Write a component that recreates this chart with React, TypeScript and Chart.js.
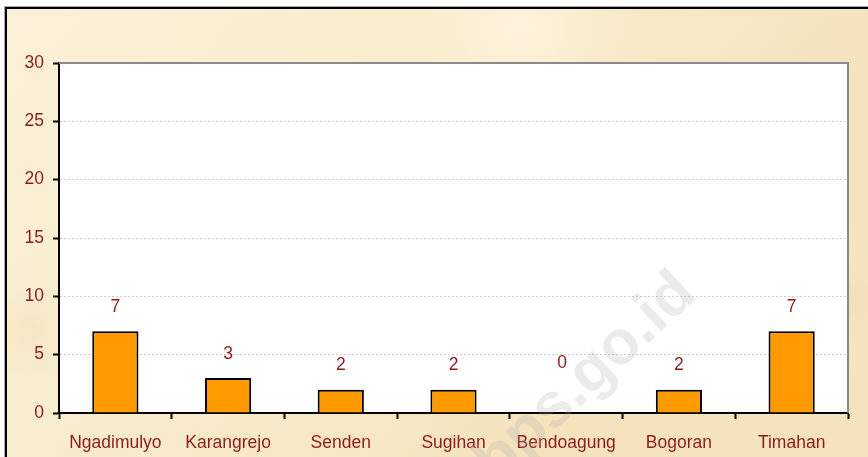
import React, { useEffect, useRef } from 'react';
import { Chart, registerables } from 'chart.js';

Chart.register(...registerables);

const categories = ['Ngadimulyo', 'Karangrejo', 'Senden', 'Sugihan', 'Bendoagung', 'Bogoran', 'Timahan'];
const values = [7, 3, 2, 2, 0, 2, 7];
const yMin = 0;
const yMax = 30;
const yStep = 5;
const watermarkText = 'bps.go.id';

const TEXT_RED = '#8E1B1B';
const FONT = "'Liberation Sans', Arial, sans-serif";

const backgroundPlugin = {
  id: 'parchment',
  beforeDraw(chart: any) {
    const { ctx, width, height, chartArea } = chart;
    ctx.save();
    ctx.fillStyle = '#ffffff';
    ctx.fillRect(0, 0, width, height);
    const g = ctx.createLinearGradient(0, 0, width * 0.6, height);
    g.addColorStop(0, '#FBF1D8');
    g.addColorStop(0.45, '#F9EDCF');
    g.addColorStop(1, '#F5E3BE');
    ctx.fillStyle = g;
    ctx.fillRect(6, 8, width, height);
    const blot = (x: number, y: number, r: number, c: string) => {
      const rg = ctx.createRadialGradient(x, y, 0, x, y, r);
      rg.addColorStop(0, c);
      rg.addColorStop(1, 'rgba(251,241,216,0)');
      ctx.fillStyle = rg;
      ctx.fillRect(6, 8, width, height);
    };
    blot(520, 30, 120, 'rgba(255,248,228,0.7)');
    blot(30, 330, 90, 'rgba(240,220,180,0.45)');
    blot(855, 300, 80, 'rgba(240,218,175,0.45)');
    ctx.strokeStyle = '#a8a8a8';
    ctx.lineWidth = 1;
    ctx.strokeRect(4.5, 6.5, width + 20, height + 20);
    ctx.strokeStyle = '#000000';
    ctx.lineWidth = 2;
    ctx.strokeRect(6, 8, width + 20, height + 20);
    ctx.fillStyle = '#ffffff';
    ctx.fillRect(chartArea.left, chartArea.top, chartArea.right - chartArea.left, chartArea.bottom - chartArea.top);
    ctx.restore();
  },
  afterDraw(chart: any) {
    const { ctx, chartArea } = chart;
    ctx.save();
    ctx.strokeStyle = '#8a8a8a';
    ctx.lineWidth = 2;
    ctx.beginPath();
    ctx.moveTo(chartArea.left, chartArea.top);
    ctx.lineTo(chartArea.right, chartArea.top);
    ctx.lineTo(chartArea.right, chartArea.bottom);
    ctx.stroke();
    ctx.translate(586, 378);
    ctx.rotate(-Math.PI / 4.2);
    ctx.font = `bold 62px ${FONT}`;
    ctx.fillStyle = 'rgba(165,165,165,0.22)';
    ctx.textAlign = 'center';
    ctx.textBaseline = 'middle';
    ctx.fillText(watermarkText, 0, 0);
    ctx.restore();
  },
};

const valueLabelPlugin = {
  id: 'valueLabels',
  afterDatasetsDraw(chart: any) {
    const { ctx } = chart;
    const meta = chart.getDatasetMeta(0);
    const ds = chart.data.datasets[0].data as number[];
    ctx.save();
    ctx.font = `17.5px ${FONT}`;
    ctx.fillStyle = TEXT_RED;
    ctx.textAlign = 'center';
    ctx.textBaseline = 'middle';
    meta.data.forEach((bar: any, i: number) => {
      const v = ds[i];
      const off = v === 0 ? 50 : 24;
      ctx.fillText(String(v), bar.x - (v === 0 ? 4 : 0), bar.y - off);
    });
    ctx.restore();
  },
};

export default function App() {
  const ref = useRef<HTMLCanvasElement>(null);
  useEffect(() => {
    if (!ref.current) return;
    const chart = new Chart(ref.current, {
      type: 'bar',
      data: {
        labels: categories,
        datasets: [
          {
            data: values,
            backgroundColor: '#FF9900',
            borderColor: '#000000',
            borderWidth: 2,
            categoryPercentage: 1,
            barPercentage: 0.41,
          },
        ],
      },
      options: {
        responsive: false,
        animation: false,
        devicePixelRatio: 1,
        layout: { padding: { left: 0, top: 63, right: 20, bottom: 0 } },
        plugins: { legend: { display: false }, tooltip: { enabled: false }, title: { display: false } },
        scales: {
          x: {
            type: 'category',
            offset: true,
            afterFit: (s: any) => {
              s.height = 44;
            },
            grid: {
              offset: true,
              drawOnChartArea: false,
              drawTicks: true,
              tickLength: 6,
              tickColor: '#000000',
              tickWidth: 2,
              tickBorderDash: [],
            },
            border: { display: true, color: '#000000', width: 2 },
            ticks: {
              color: TEXT_RED,
              font: { family: FONT, size: 17.5 },
              padding: 14,
              maxRotation: 0,
              autoSkip: false,
            },
          },
          y: {
            min: yMin,
            max: yMax,
            afterFit: (s: any) => {
              s.width = 59;
            },
            grid: {
              color: '#cfcfcf',
              lineWidth: 1,
              drawTicks: true,
              tickLength: 6,
              tickColor: '#000000',
              tickWidth: 2,
              tickBorderDash: [],
            },
            border: { display: true, color: '#000000', width: 2, dash: [2, 2] },
            ticks: {
              stepSize: yStep,
              color: TEXT_RED,
              font: { family: FONT, size: 17.5 },
              padding: 9,
            },
          },
        },
      },
      plugins: [backgroundPlugin, valueLabelPlugin],
    });
    return () => chart.destroy();
  }, []);
  return (
    <div style={{ position: 'absolute', left: 0, top: 0, width: 868, height: 457, overflow: 'hidden' }}>
      <canvas ref={ref} width={868} height={457} style={{ display: 'block', width: 868, height: 457 }} />
    </div>
  );
}
